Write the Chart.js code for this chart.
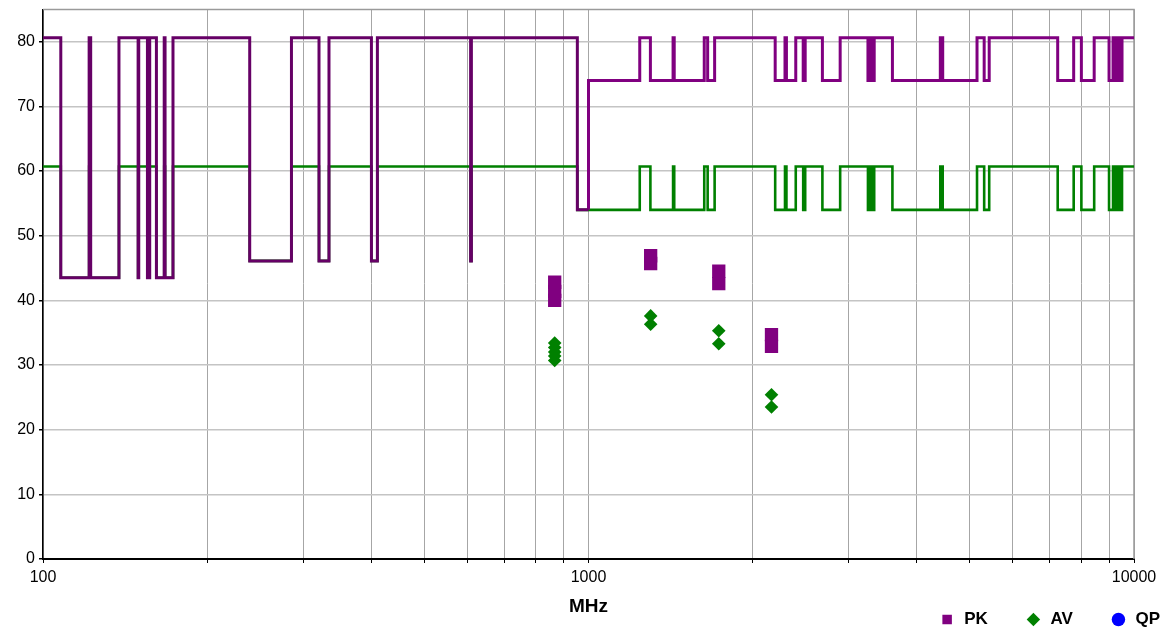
<!DOCTYPE html>
<html>
<head>
<meta charset="utf-8">
<script src="https://cdn.jsdelivr.net/npm/chart.js@4.4.1/dist/chart.umd.min.js"></script>
<style>
  body { margin: 0; background: #fff; }
  #wrap { width: 1161px; height: 631px; }
</style>
</head>
<body>
<div id="wrap"><canvas id="emiChart" width="1161" height="631"></canvas></div>
<script>
// limit below 1 GHz (dark purple), frequency in MHz where each level starts
var limLowFreq  = [100, 107.8, 121.5, 122.3, 137.8, 149.4, 149.8, 155.4, 156.9, 161.4, 166.8, 167.4,
                   173.1, 239.3, 285.4, 320.6, 334.4, 400, 410.2, 608, 610, 954, 1000];
var limLowLevel = [80.6, 43.5, 80.6, 43.5, 80.6, 43.5, 80.6, 43.5, 80.6, 43.5, 80.6, 43.5,
                   80.6, 46.1, 80.6, 46.1, 80.6, 46.1, 80.6, 46.1, 80.6, 54, 54];

// limit above 1 GHz (purple)
var limHighFreq  = [1000, 1000, 1241.5, 1298.6, 1429, 1436, 1630, 1653.6, 1703, 2199, 2292, 2306,
                    2398.5, 2475, 2496, 2684, 2893, 3253, 3281, 3305, 3340, 3607, 4415, 4460,
                    5155, 5313, 5427, 7246, 7752, 8008, 8453, 9000, 9153, 9246, 9335, 9434, 9507, 10000];
var limHighLevel = [54, 74, 80.6, 74, 80.6, 74, 80.6, 74, 80.6, 74, 80.6, 74,
                    80.6, 74, 80.6, 74, 80.6, 74, 80.6, 74, 80.6, 74, 80.6, 74,
                    80.6, 74, 80.6, 74, 80.6, 74, 80.6, 74, 80.6, 74, 80.6, 74, 80.6, 80.6];

// average limit (green)
var avLimFreq  = limLowFreq.concat(limHighFreq.slice(2));
var avLimLevel = [60.7, 43.5, 60.7, 43.5, 60.7, 43.5, 60.7, 43.5, 60.7, 43.5, 60.7, 43.5,
                  60.7, 46.1, 60.7, 46.1, 60.7, 46.1, 60.7, 46.1, 60.7, 54, 54,
                  60.7, 54, 60.7, 54, 60.7, 54, 60.7, 54, 60.7, 54, 60.7, 54,
                  60.7, 54, 60.7, 54, 60.7, 54, 60.7, 54, 60.7, 54, 60.7, 54,
                  60.7, 54, 60.7, 54, 60.7, 54, 60.7, 54, 60.7, 54, 60.7, 60.7];

// measured points
var pkFreq  = [867, 867, 867, 1300, 1300, 1733, 1733, 2165, 2165];
var pkLevel = [42.8, 41.4, 40.0, 46.9, 45.7, 44.5, 42.6, 34.7, 32.9];
var avFreq  = [867, 867, 867, 867, 867, 1300, 1300, 1733, 1733, 2165, 2165];
var avLevel = [33.4, 32.7, 32.0, 31.4, 30.7, 37.6, 36.3, 35.3, 33.3, 25.4, 23.5];
var qpFreq  = [];
var qpLevel = [];

var xTickValues = [100, 200, 300, 400, 500, 600, 700, 800, 900,
                   1000, 2000, 3000, 4000, 5000, 6000, 7000, 8000, 9000, 10000];
var xTickLabels = [100, 1000, 10000];

function toPoints(xs, ys) {
  var pts = [];
  for (var i = 0; i < xs.length; ++i) {
    pts.push({ x: xs[i], y: ys[i] });
  }
  return pts;
}

var font = "'Liberation Sans', Arial, sans-serif";

// grey frame on top and right of the plot area
var framePlugin = {
  id: 'frame',
  beforeDatasetsDraw: function(chart) {
    var a = chart.chartArea, ctx = chart.ctx;
    ctx.save();
    ctx.strokeStyle = '#9a9a9a';
    ctx.lineWidth = 1.5;
    ctx.beginPath();
    ctx.moveTo(a.left, a.top);
    ctx.lineTo(a.right, a.top);
    ctx.lineTo(a.right, a.bottom);
    ctx.stroke();
    ctx.restore();
  }
};

var ctx = document.getElementById("emiChart").getContext("2d");
var emiChart = new Chart(ctx, {
  type: 'line',
  data: {
    datasets: [
      { label: 'PK   ', data: toPoints(pkFreq, pkLevel), showLine: false, order: 0,
        pointStyle: 'rect', pointRadius: 9.4, pointBackgroundColor: '#800080', pointBorderWidth: 0,
        backgroundColor: '#800080', borderColor: '#800080' },
      { label: 'AV   ', data: toPoints(avFreq, avLevel), showLine: false, order: 0,
        pointStyle: 'rectRot', pointRadius: 6.8, pointBackgroundColor: '#008000', pointBorderWidth: 0,
        backgroundColor: '#008000', borderColor: '#008000' },
      { label: 'QP', data: toPoints(qpFreq, qpLevel), showLine: false, order: 0,
        pointStyle: 'circle', pointRadius: 6, pointBackgroundColor: '#0000ff', pointBorderWidth: 0,
        backgroundColor: '#0000ff', borderColor: '#0000ff' },
      { label: 'limLow', data: toPoints(limLowFreq, limLowLevel), stepped: true, order: 1,
        borderColor: '#660066', borderWidth: 3, pointRadius: 0, fill: false },
      { label: 'limHigh', data: toPoints(limHighFreq, limHighLevel), stepped: true, order: 1,
        borderColor: '#800080', borderWidth: 3, pointRadius: 0, fill: false },
      { label: 'avLim', data: toPoints(avLimFreq, avLimLevel), stepped: true, order: 2,
        borderColor: '#008000', borderWidth: 2.6, pointRadius: 0, fill: false }
    ]
  },
  options: {
    responsive: false,
    animation: false,
    devicePixelRatio: 1,
    layout: { padding: { top: 8, right: -22, left: 0, bottom: -7 } },
    plugins: {
      tooltip: { enabled: false },
      legend: {
        position: 'bottom',
        align: 'end',
        labels: {
          filter: function(item) { return item.datasetIndex < 3; },
          usePointStyle: true,
          boxHeight: 9.5,
          padding: 23,
          color: '#000',
          font: { family: font, size: 17, weight: 'bold' }
        }
      }
    },
    scales: {
      x: {
        type: 'logarithmic',
        min: 100,
        max: 10000,
        afterBuildTicks: function(scale) {
          scale.ticks = xTickValues.map(function(v) { return { value: v }; });
        },
        afterFit: function(scale) {
          scale.height = 29;
          scale.paddingRight = 27;
        },
        ticks: {
          autoSkip: false,
          maxRotation: 0,
          color: '#000',
          padding: 5,
          font: { family: font, size: 16 },
          callback: function(value) {
            return xTickLabels.indexOf(value) >= 0 ? String(value) : '';
          }
        },
        grid: { color: '#a6a6a6', lineWidth: 1, tickLength: 4, tickColor: '#000' },
        border: { color: '#000', width: 2 },
        title: {
          display: true, text: 'MHz', color: '#000',
          font: { family: font, size: 19, weight: 'bold' },
          padding: { top: 0, bottom: -30.4 }
        }
      },
      y: {
        min: 0,
        max: 85,
        afterFit: function(scale) {
          scale.width = 43;
          scale.paddingTop = 0;
          scale.paddingBottom = 0;
        },
        ticks: {
          stepSize: 10,
          includeBounds: false,
          color: '#000',
          padding: 4,
          font: { family: font, size: 16 }
        },
        grid: { color: '#c4c4c4', lineWidth: 1.5, tickLength: 4, tickColor: '#000' },
        border: { color: '#000', width: 1.5 }
      }
    }
  },
  plugins: [framePlugin]
});
</script>
</body>
</html>
